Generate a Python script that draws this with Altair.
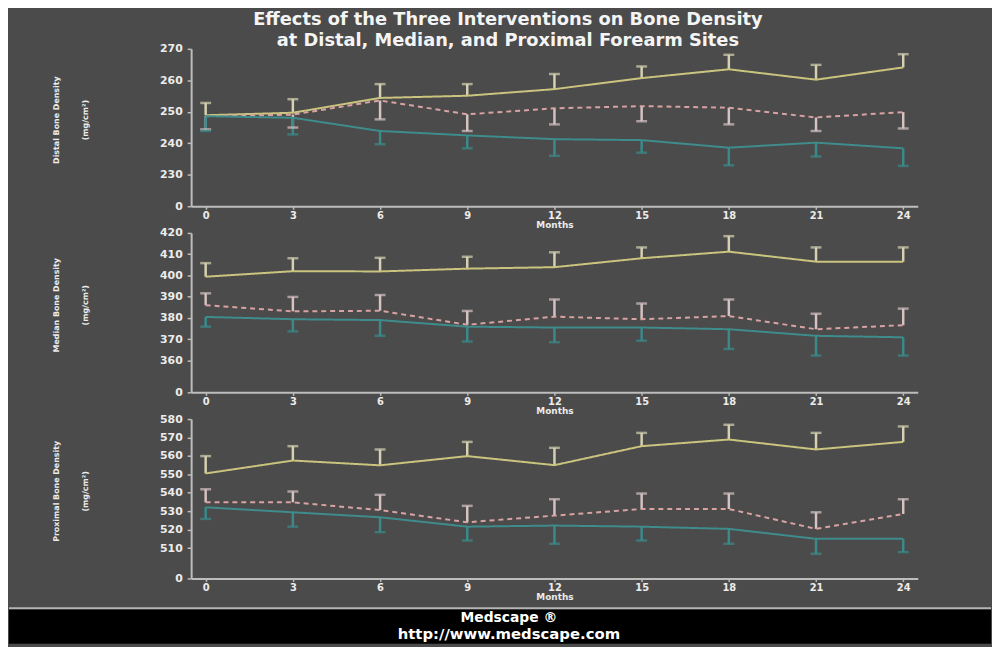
import altair as alt
import pandas as pd

months = [0, 3, 6, 9, 12, 15, 18, 21, 24]
series_names = ["yellow", "pink", "teal"]

# Distal
d_yellow = [248.9, 249.7, 254.4, 255.1, 257.2, 260.7, 263.5, 260.2, 264.1]
d_yellow_err = [252.8, 254.0, 258.8, 258.8, 262.0, 264.4, 268.1, 264.9, 268.3]
d_pink = [248.6, 249.1, 253.6, 249.2, 251.1, 251.8, 251.3, 248.2, 249.9]
d_pink_err = [244.4, 245.0, 247.6, 243.9, 246.0, 247.0, 246.0, 243.9, 244.7]
d_teal = [248.6, 248.1, 243.9, 242.5, 241.3, 241.0, 238.6, 240.2, 238.4]
d_teal_err = [243.9, 242.8, 239.7, 238.4, 236.0, 237.0, 233.0, 235.8, 232.8]

# Median
m_yellow = [399.4, 402.0, 401.9, 403.2, 403.9, 408.1, 411.2, 406.5, 406.5]
m_yellow_err = [405.8, 408.1, 408.3, 408.8, 410.9, 413.2, 418.5, 413.2, 413.2]
m_pink = [386.0, 383.1, 383.4, 376.8, 380.6, 379.4, 380.9, 374.7, 376.6]
m_pink_err = [391.6, 389.9, 390.8, 383.3, 388.7, 386.8, 388.7, 382.0, 384.4]
m_teal = [380.5, 379.4, 379.0, 375.9, 375.5, 375.5, 374.7, 371.6, 370.9]
m_teal_err = [375.9, 373.7, 371.6, 368.9, 368.6, 369.3, 365.4, 362.3, 362.3]

# Proximal
p_yellow = [550.5, 557.5, 554.9, 559.9, 555.0, 565.3, 568.9, 563.5, 567.6]
p_yellow_err = [559.9, 565.3, 563.5, 567.6, 564.4, 572.5, 576.9, 572.5, 576.0]
p_pink = [534.8, 534.8, 530.6, 524.0, 527.6, 531.2, 531.2, 520.4, 528.5]
p_pink_err = [541.9, 540.7, 538.9, 532.9, 536.5, 539.6, 539.6, 529.4, 536.5]
p_teal = [532.1, 529.4, 526.7, 521.6, 522.2, 521.6, 520.4, 515.0, 515.0]
p_teal_err = [525.8, 521.6, 518.6, 514.1, 512.3, 514.1, 512.3, 506.9, 507.8]

d_ticks = [220, 230, 240, 250, 260, 270]
m_ticks = [345, 360, 370, 380, 390, 400, 410, 420]
p_ticks = [493.5, 510, 520, 530, 540, 550, 560, 570, 580]

title_lines = ["Effects of the Three Interventions on Bone Density",
               "at Distal, Median, and Proximal Forearm Sites"]
footer_lines = ["Medscape \u00ae", "http://www.medscape.com"]

line_colors = {"yellow": "#cbc47e", "pink": "#d9a3a3", "teal": "#3e8c8c"}
bar_colors = {"yellow": "#d6d1b2", "pink": "#d6c2c2", "teal": "#3a8a8a"}
dashes = {"yellow": [1, 0], "pink": [5, 4], "teal": [1, 0]}

BG = "#4b4b4b"
AX = "#bdbdbd"
TXT = "#ececec"
W = 734


def make_df(ys, es):
    rows = []
    for s, mean, err in zip(series_names, ys, es):
        for mo, v, e in zip(months, mean, err):
            rows.append({"month": mo, "series": s, "mean": v, "err": e,
                         "lc": line_colors[s], "bc": bar_colors[s]})
    return pd.DataFrame(rows)


def panel(df, ytitle, ticks, height, footer=False):
    lo, hi = ticks[0], ticks[-1]
    xscale = alt.Scale(domain=[-0.5, 24.5], nice=False, zero=False)
    xaxis = alt.Axis(values=months, title="Months", labelFontSize=10,
                     labelPadding=1, tickSize=3, titlePadding=0,
                     titleFontSize=9, labelOverlap=False)
    yscale = alt.Scale(domain=[lo, hi], nice=False, zero=False)
    lab = "datum.value == %s ? '0' : datum.label" % lo
    yaxis = alt.Axis(values=ticks, labelExpr=lab, title=ytitle,
                     titleX=-136, titleY=height / 2 - 8, titleAngle=270,
                     titleAlign="center", titleBaseline="middle",
                     titleLineHeight=29, titleFontSize=8,
                     labelFontSize=11, tickSize=4, labelPadding=5,
                     labelOverlap=False, labelFlush=False, labelBound=False)
    x = alt.X("month:Q", scale=xscale, axis=xaxis)
    base = alt.Chart(df)
    lines = base.mark_line(strokeWidth=2).encode(
        x=x, y=alt.Y("mean:Q", scale=yscale, axis=yaxis),
        color=alt.Color("lc:N", scale=None),
        strokeDash=alt.StrokeDash("series:N",
                                  scale=alt.Scale(domain=series_names,
                                                  range=[dashes[s] for s in series_names]),
                                  legend=None),
        detail="series:N",
    )
    rules = base.mark_rule(strokeWidth=2.5).encode(
        x=x, y=alt.Y("mean:Q", scale=yscale, axis=yaxis), y2="err:Q",
        color=alt.Color("bc:N", scale=None))
    caps = base.mark_tick(orient="horizontal", size=11, thickness=2.5).encode(
        x=x, y=alt.Y("err:Q", scale=yscale, axis=yaxis),
        color=alt.Color("bc:N", scale=None))
    layers = [rules, lines, caps]
    if footer:
        fdf = pd.DataFrame({"t": [footer_lines[0]], "u": [footer_lines[1]]})
        fb = alt.Chart(fdf)
        band = fb.mark_rect(color="#000000").encode(
            x=alt.value(-184), x2=alt.value(W + 74),
            y=alt.value(height + 31), y2=alt.value(height + 66))
        sep = fb.mark_rule(color="#b5b5b5", strokeWidth=2).encode(
            x=alt.value(-184), x2=alt.value(W + 74), y=alt.value(height + 30))
        t1 = fb.mark_text(color="#ffffff", fontSize=14, fontWeight="bold",
                          font="DejaVu Sans").encode(
            text="t:N", x=alt.value(321), y=alt.value(height + 39.5))
        t2 = fb.mark_text(color="#ffffff", fontSize=15, fontWeight="bold",
                          font="DejaVu Sans").encode(
            text="u:N", x=alt.value(321), y=alt.value(height + 56.5))
        layers = [band, sep, t1, t2] + layers
    return alt.layer(*layers).properties(width=W, height=height)


p1 = panel(make_df([d_yellow, d_pink, d_teal], [d_yellow_err, d_pink_err, d_teal_err]),
           ["Distal Bone Density", "(mg/cm\u00b2)"], d_ticks, 159)
p2 = panel(make_df([m_yellow, m_pink, m_teal], [m_yellow_err, m_pink_err, m_teal_err]),
           ["Median Bone Density", "(mg/cm\u00b2)"], m_ticks, 161)
p3 = panel(make_df([p_yellow, p_pink, p_teal], [p_yellow_err, p_pink_err, p_teal_err]),
           ["Proximal Bone Density", "(mg/cm\u00b2)"], p_ticks, 161, footer=True)

chart = alt.vconcat(p1, p2, p3, spacing=27, bounds="flush").properties(
    title=alt.TitleParams(text=title_lines, fontSize=18, font="DejaVu Sans",
                          fontWeight="bold", color="#f4f4f4", lineHeight=21,
                          anchor="middle", offset=-7, dx=8),
    padding=0,
).configure(background=BG).configure_view(strokeWidth=0).configure_axis(
    grid=False, domainColor=AX, domainWidth=2, tickColor=AX, tickWidth=1.5,
    labelColor=TXT, labelFont="DejaVu Sans", labelFontWeight="bold",
    titleColor=TXT, titleFont="DejaVu Sans", titleFontWeight="bold",
    labelOverlap=False,
)

chart.save("out.html", embed_options={"renderer": "svg", "actions": False})
